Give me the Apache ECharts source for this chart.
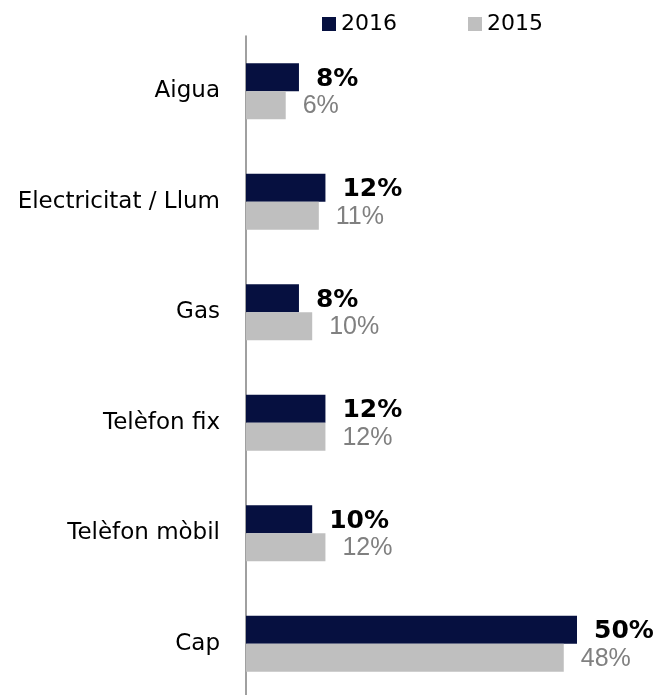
<!DOCTYPE html>
<html>
<head>
<meta charset="utf-8">
<script src="https://cdn.jsdelivr.net/npm/echarts@6/dist/echarts.min.js"></script>
<style>
  html, body { margin: 0; padding: 0; background: #fff; }
  #chart { width: 661px; height: 695px; }
</style>
</head>
<body>
<div id="chart"></div>
<script>
// Categories, top to bottom
const categories = ['Aigua', 'Electricitat / Llum', 'Gas', 'Telèfon fix', 'Telèfon mòbil', 'Cap'];
// Share of households (%) per year
const values2016 = [8, 12, 8, 12, 10, 50];
const values2015 = [6, 11, 10, 12, 12, 48];
const seriesNames = ['2016', '2015'];

const chart = echarts.init(document.getElementById('chart'), null, { renderer: 'canvas' });

chart.setOption({
  animation: false,
  backgroundColor: '#ffffff',
  legend: {
    top: 8,
    left: 317,
    itemWidth: 14,
    itemHeight: 14,
    itemGap: 71,
    icon: 'rect',
    textStyle: { fontFamily: 'DejaVu Sans', fontSize: 22, color: '#000' },
    data: seriesNames
  },
  grid: { left: 246, right: 84, top: 36, bottom: -4, containLabel: false, outerBoundsMode: 'none' },
  xAxis: {
    type: 'value',
    min: 0,
    max: 50,
    show: false,
    splitLine: { show: false }
  },
  yAxis: {
    type: 'category',
    inverse: true,
    data: categories,
    axisLine: { show: true, lineStyle: { color: '#808080', width: 1.5 } },
    axisTick: { show: false },
    axisLabel: { fontFamily: 'DejaVu Sans', fontSize: 23, color: '#000', margin: 26 }
  },
  series: [
    {
      name: seriesNames[0],
      type: 'bar',
      data: values2016,
      barWidth: 28,
      barGap: '0%',
      itemStyle: { color: '#061040' },
      label: {
        show: true,
        position: 'right',
        distance: 17,
        offset: [0, 2],
        formatter: '{c}%',
        fontFamily: 'DejaVu Sans',
        fontWeight: 'bold',
        fontSize: 25,
        color: '#000'
      }
    },
    {
      name: seriesNames[1],
      type: 'bar',
      data: values2015,
      barWidth: 28,
      barGap: '0%',
      itemStyle: { color: '#bfbfbf' },
      label: {
        show: true,
        position: 'right',
        distance: 17,
        offset: [0, 1],
        formatter: '{c}%',
        fontFamily: 'Liberation Sans',
        fontSize: 25,
        color: '#808080'
      }
    }
  ]
});
</script>
</body>
</html>
